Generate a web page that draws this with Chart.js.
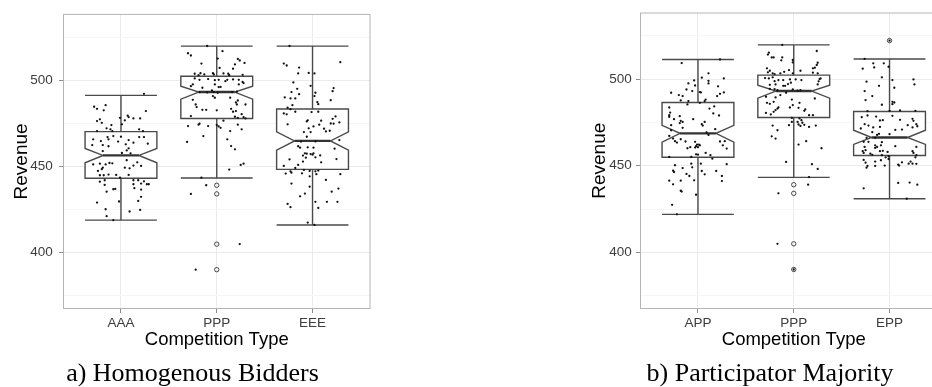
<!DOCTYPE html>
<html>
<head>
<meta charset="utf-8">
<title>Revenue by competition type</title>
<script src="https://cdn.jsdelivr.net/npm/chart.js@4.4.1/dist/chart.umd.min.js"></script>
<style>
  html, body { margin: 0; padding: 0; background: #ffffff; overflow: hidden; width: 932px; height: 387px; }
  .panel { position: absolute; top: 0; height: 387px; }
  #wrapA { left: 0; width: 385px; }
  #wrapB { left: 580px; width: 380px; }
</style>
</head>
<body>
<div class="panel" id="wrapA"><canvas id="chartA"></canvas></div>
<div class="panel" id="wrapB"><canvas id="chartB"></canvas></div>
<script>
// ---------- categories and axis labels ----------
const categoriesA = ['AAA', 'PPP', 'EEE'];
const categoriesB = ['APP', 'PPP', 'EPP'];
const yTickLabels = [400, 450, 500];
const yMinorGrid = [375, 425, 475, 525];
const captionA = 'a) Homogenous Bidders';
const captionB = 'b) Participator Majority';
const xTitle = 'Competition Type';
const yTitle = 'Revenue';

// ---------- box statistics (per category) ----------
const lowerWhiskerA = [418.9, 443.3, 416.1];
const q1A           = [443.2, 477.8, 448.3];
const notchLowA     = [452.1, 489.0, 459.5];
const medianA       = [456.4, 493.1, 464.8];
const notchHighA    = [460.4, 496.5, 470.0];
const q3A           = [470.2, 502.3, 483.3];
const upperWhiskerA = [491.2, 519.7, 519.7];
const outliersA     = [[], [439.1, 434.1, 405.0, 390.2], []];

const lowerWhiskerB = [422.0, 443.3, 431.0];
const q1B           = [454.9, 477.8, 455.9];
const notchLowB     = [463.6, 489.0, 462.3];
const medianB       = [468.7, 493.1, 466.3];
const notchHighB    = [473.3, 496.5, 470.5];
const q3B           = [486.5, 502.3, 481.3];
const upperWhiskerB = [511.3, 519.7, 511.6];
const outliersB     = [[], [439.1, 434.1, 405.0, 390.2], [522.2]];

// ---------- individual observations (revenue) and their horizontal jitter ----------
const aaaRevenue = [492.1,484.6,483.4,485.5,482.5,482.1,478.2,479.4,478.6,476.7,
  477.8,477.8,476.3,477.3,475.3,474.0,474.4,472.1,471.5,470.5,
  470.5,471.5,470.5,465.7,464.7,467.0,465.7,467.6,467.2,465.3,
  463.8,467.0,467.0,463.2,462.4,462.4,461.7,464.4,462.8,460.5,
  458.9,457.8,459.3,457.6,451.2,451.6,452.0,451.8,451.2,449.3,
  448.4,447.4,449.3,448.9,450.5,452.4,450.3,453.6,444.9,444.9,
  445.3,445.1,443.5,445.1,441.2,442.0,442.0,442.0,441.4,439.7,
  439.7,439.3,439.7,440.1,435.4,436.8,437.0,436.6,437.4,432.4,
  430.0,429.1,429.7,425.2,423.9,424.8,421.2,418.9];
const aaaJitter = [0.24,-0.28,-0.25,-0.16,-0.18,0.26,-0.01,0.07,0.08,0.04,
  0.13,0.20,-0.25,-0.22,-0.20,-0.10,0.01,-0.15,-0.11,-0.09,
  -0.25,0.19,0.23,-0.29,-0.21,-0.14,-0.13,-0.08,0,0.08,
  0.13,0.19,0.24,0.28,-0.30,-0.19,-0.13,-0.03,0.05,0.08,
  -0.19,0.01,0.06,0.10,-0.29,-0.22,-0.12,-0.09,-0.16,-0.19,
  -0.20,-0.24,0.04,0.09,0.13,0.17,0.21,0.06,-0.22,-0.18,
  -0.13,-0.05,-0.01,0.08,-0.22,-0.17,0.13,0.18,0.24,0.27,
  0.29,-0.17,0.13,0.21,-0.15,-0.08,-0.06,0.21,0.14,0.21,
  0.18,-0.25,-0.02,-0.16,0.09,0.20,-0.15,-0.08];

const pppRevenueA = [519.8,516.8,515.6,514.3,512.5,509.6,512.3,511.4,510.0,509.1,
  506.6,507.1,503.7,502.9,504.0,503.3,504.0,503.3,503.9,503.7,
  502.9,503.1,501.0,500.2,500.6,500.0,500.2,499.4,500.2,500.4,
  500.2,498.3,497.5,497.5,496.5,495.6,497.5,496.0,496.1,499.0,
  494.0,493.1,493.1,492.9,492.7,493.1,493.3,490.8,489.8,489.8,
  488.6,485.9,484.4,488.2,487.1,485.9,485.9,482.8,482.8,482.5,
  483.4,481.7,482.1,480.3,479.2,478.8,478.2,478.6,477.8,476.5,
  473.4,474.8,474.2,473.4,474.0,473.2,472.4,474.2,471.5,470.5,
  467.6,464.2,465.7,461.8,459.9,451.6,450.9,448.2,443.5,439.1,
  434.1,405.0,390.2];
const pppJitterA = [-0.10,0.06,-0.30,-0.27,0.01,-0.16,0.22,0.24,0.29,0.19,
  0.17,0.03,-0.23,-0.19,-0.17,-0.13,-0.04,-0.03,0.07,0.12,
  0.13,0.27,-0.23,-0.18,-0.09,-0.02,0.02,0.09,0.11,0.17,
  0.23,0.28,0.23,-0.25,-0.27,-0.15,-0.02,0.02,0.04,0.27,
  -0.05,-0.03,-0.18,-0.10,0.01,0.16,0.21,-0.04,-0.02,0.14,
  -0.25,-0.22,-0.21,0.22,0.20,0.21,0.30,-0.15,-0.11,0,
  0.15,0.17,0.20,0.26,-0.27,0.19,0.22,0.28,0.30,0.07,
  -0.30,-0.18,-0.19,-0.09,0,0.02,0.04,0.22,0.26,0.14,
  -0.14,-0.31,0.11,0.15,0.19,0.28,0.25,0.13,-0.16,-0.11,
  -0.27,0.24,-0.22];

const eeeRevenue = [519.8,510.4,509.6,508.5,507.3,504.2,503.9,503.9,
  498.7,496.7,495.0,495.4,493.6,493.1,491.9,492.7,490.8,490.0,489.4,489.4,488.4,487.3,486.1,485.5,
  484.0,483.2,481.7,480.7,480.2,481.5,481.7,
  479.0,477.6,476.7,476.1,476.5,474.2,474.9,474.8,475.5,474.4,473.2,472.1,471.9,470.3,470.7,469.9,469.9,467.2,
  464.4,464.5,465.3,461.7,460.9,461.1,460.9,460.3,457.6,456.3,455.1,457.4,457.2,456.8,457.6,456.4,455.3,454.1,452.8,452.4,454.3,
  450.3,450.9,449.1,447.2,446.4,445.9,446.0,448.0,447.4,447.2,447.6,445.5,444.3,445.5,
  442.2,440.1,438.3,437.2,435.4,434.3,432.7,429.5,429.5,429.5,428.3,426.4,426.0,
  417.5,416.1];
const eeeJitter = [-0.24,0.29,-0.30,-0.27,-0.14,-0.04,0.02,-0.15,
  -0.20,-0.02,-0.16,0.22,0.21,-0.22,-0.14,0.03,0.02,-0.29,-0.23,-0.18,0.19,0.05,0.06,-0.21,
  -0.26,-0.23,-0.18,-0.30,-0.27,-0.01,0.06,
  0.24,0.21,-0.05,-0.06,0.09,0.07,0.19,0.22,0.28,-0.26,0.01,-0.04,0.12,0.14,0.18,-0.09,-0.02,-0.06,
  -0.12,0.03,0.28,-0.15,-0.13,-0.05,0.01,0.23,-0.08,-0.10,-0.07,-0.06,-0.02,0,0.01,0.08,0.03,-0.24,-0.10,0.09,0.25,
  -0.30,-0.15,-0.18,-0.23,-0.22,-0.28,-0.11,-0.09,-0.03,0.03,0.06,0.04,-0.03,0.29,
  0.14,-0.22,-0.03,0.27,0.20,-0.08,-0.13,0.03,0.15,0.26,-0.26,-0.23,0.06,
  -0.05,0.02];

const appRevenue = [509.2,511.3,
  503.3,500.4,500.8,499.2,497.5,499.0,497.5,496.3,495.8,494.0,493.1,492.5,492.3,492.3,491.5,490.2,492.1,490.8,490.2,487.7,487.3,488.2,487.3,485.4,486.3,
  483.6,480.7,479.2,478.2,476.9,478.6,475.9,475.3,476.9,474.0,473.2,475.3,483.0,484.2,480.2,479.0,473.4,471.9,474.6,471.1,470.5,
  467.2,465.7,464.2,463.4,465.3,464.0,463.8,462.2,462.2,461.8,461.3,460.7,460.1,460.7,460.5,464.0,464.2,461.8,459.9,469.2,467.8,457.4,456.1,454.1,455.1,455.1,456.6,456.4,
  450.3,451.2,449.1,451.2,450.9,448.7,446.4,447.2,445.3,444.1,441.6,447.0,445.1,447.0,444.1,441.2,441.4,439.3,441.4,435.6,435.1,433.3,427.5,422.0];
const appJitter = [-0.17,0.23,
  0.11,0.27,0.04,-0.04,-0.10,0.11,0.11,-0.03,0.21,-0.12,-0.06,0.02,0.03,0.27,0.23,0.20,-0.28,-0.20,-0.16,-0.18,-0.10,0.08,0.07,-0.11,0.02,
  -0.30,-0.29,-0.30,-0.30,-0.25,-0.19,-0.18,-0.16,-0.05,0.04,0.05,0.07,0.12,0.17,0.16,0.22,-0.28,-0.16,-0.19,0.18,-0.28,
  -0.30,-0.26,-0.24,-0.22,-0.18,-0.13,-0.03,-0.01,0.01,0.02,-0.02,-0.08,-0.11,0,-0.03,0.23,0.28,0.26,0.30,0.09,0.11,0.08,0.13,0.15,-0.30,-0.07,-0.02,0,
  -0.24,-0.07,-0.06,0.03,0.30,-0.16,-0.25,-0.26,-0.12,-0.09,-0.04,0.04,0.07,0.19,0.25,0.25,-0.30,-0.26,-0.18,-0.18,-0.17,-0.02,-0.27,-0.22];

const pppRevenueB = [519.7,516.2,515.2,514.1,512.5,512.5,512.5,510.8,511.0,509.6,509.4,508.1,506.6,506.2,506.2,504.8,503.9,503.3,502.9,503.3,504.2,505.2,503.3,504.8,503.7,503.3,
  500.6,500.4,501.0,498.8,499.4,499.4,499.8,499.8,499.4,500.0,500.4,498.7,496.9,497.9,497.1,496.1,496.1,496.9,496.7,494.4,494.2,493.6,494.0,493.6,493.3,492.1,490.8,489.4,489.8,488.8,488.2,
  486.3,486.9,485.7,485.0,483.6,483.6,483.0,482.1,486.3,482.5,481.7,483.4,480.5,479.6,481.1,479.2,479.2,
  477.6,475.3,477.3,475.3,476.3,474.8,473.6,473.0,473.8,473.2,472.4,473.4,473.2,470.5,467.0,465.7,464.2,462.2,460.1,
  452.2,450.9,448.2,443.5,439.1,434.1,405.0,390.2];
const pppJitterB = [-0.12,0.24,-0.26,-0.27,-0.23,-0.21,-0.12,-0.13,-0.01,-0.01,0.25,0.24,0.22,0.20,-0.28,-0.25,-0.27,-0.22,-0.20,-0.14,-0.10,-0.05,-0.01,0.07,0.20,0.25,
  -0.30,-0.26,-0.22,-0.20,-0.16,-0.11,-0.04,0.02,0.08,0.27,0.28,0.26,0.25,-0.03,-0.06,-0.09,-0.11,-0.19,-0.25,-0.25,-0.20,-0.17,-0.01,0.07,0.04,-0.08,-0.14,-0.19,-0.29,0.22,-0.02,
  -0.28,-0.21,-0.25,-0.01,-0.04,-0.16,-0.17,-0.19,0.06,0.12,0.11,0.05,-0.29,-0.24,-0.21,0.16,0.20,
  -0.02,-0.02,0.06,0.04,0.08,0.09,0.11,0.07,0.05,0.23,0.16,-0.05,-0.22,-0.17,-0.23,-0.19,0.13,0.05,0.29,
  -0.08,0.19,0.25,0.16,0.15,-0.16,-0.17,0];

const eppRevenue = [522.2,
  511.6,509.1,506.7,509.1,507.1,506.0,
  498.5,501.0,499.4,499.8,496.9,496.1,495.0,493.1,490.2,487.9,485.2,486.9,486.5,485.5,
  481.5,481.7,481.9,481.7,478.0,479.0,478.4,476.1,476.3,478.8,476.5,477.1,475.9,474.0,472.8,474.0,473.2,471.5,472.1,472.4,470.7,473.4,472.1,469.4,468.2,470.9,
  466.1,466.1,467.8,468.4,463.8,463.8,461.8,460.9,463.6,461.8,461.3,460.9,458.4,457.4,459.0,460.3,458.4,458.6,458.0,458.4,457.4,456.1,460.9,
  457.0,456.3,456.1,455.5,453.4,451.8,449.9,448.9,452.4,449.9,453.2,450.1,453.9,454.9,450.1,450.7,452.0,451.2,452.4,451.2,454.9,451.1,
  440.1,440.3,439.1,437.0,431.0];
const eppJitter = [0,
  -0.26,-0.17,-0.16,-0.06,-0.01,-0.28,
  -0.24,-0.08,0.03,0.25,0.26,-0.11,0.05,-0.26,-0.18,-0.25,-0.08,0.03,0.05,0.03,
  -0.23,0,0.11,0.27,-0.29,-0.23,-0.14,-0.10,-0.07,0.03,0.11,0.24,0.25,0.28,0.29,-0.26,-0.22,-0.30,-0.17,-0.10,0.06,0.19,0.24,-0.18,0,0.13,
  -0.24,-0.15,-0.13,-0.11,-0.27,-0.22,-0.15,-0.13,-0.08,-0.09,0.06,-0.26,-0.28,-0.27,-0.25,-0.15,-0.10,-0.07,-0.02,0.24,0.25,0.28,0.28,
  -0.20,-0.18,-0.08,-0.01,-0.27,-0.25,-0.23,-0.24,-0.15,-0.15,-0.09,-0.05,-0.01,-0.04,0.10,0.09,0.13,0.20,0.22,0.24,0.27,0.28,
  0.09,0.21,0.29,-0.27,0.18];

// ---------- appearance ----------
const Y_MIN = 367.7, Y_MAX = 538.1;
const X_MIN = 0.4, X_MAX = 3.6;           // discrete axis with 0.6 expansion
const BOX_HALF = 0.375;                   // half box width, category units
const NOTCH_FRACTION = 0.5;               // notch width relative to box
const SANS = '"Liberation Sans", Arial, Helvetica, sans-serif';
const SERIF = '"Liberation Serif", "Times New Roman", Times, serif';
const MAJOR_GRID = '#ebebeb', MINOR_GRID = '#f6f6f6';
const FRAME = '#b5b5b5', TICK_MARK = '#8c8c8c', TICK_TEXT = '#3d3d3d';
const BOX_LINE = '#4a4a4a';

// Notched boxes, whiskers and caps drawn through the chart's scales
const notchedBoxes = {
  id: 'notchedBoxes',
  beforeDatasetsDraw(chart, args, opts) {
    const {ctx, scales: {x, y}} = chart;
    const s = opts.stats;
    ctx.save();
    ctx.lineJoin = 'miter';
    for (let i = 0; i < s.median.length; i++) {
      const c = i + 1;
      const L = x.getPixelForValue(c - BOX_HALF);
      const R = x.getPixelForValue(c + BOX_HALF);
      const Li = x.getPixelForValue(c - BOX_HALF * NOTCH_FRACTION);
      const Ri = x.getPixelForValue(c + BOX_HALF * NOTCH_FRACTION);
      const cx = x.getPixelForValue(c);
      const yLo = y.getPixelForValue(s.lower[i]);
      const yQ1 = y.getPixelForValue(s.q1[i]);
      const yNL = y.getPixelForValue(s.notchLow[i]);
      const yMed = y.getPixelForValue(s.median[i]);
      const yNH = y.getPixelForValue(s.notchHigh[i]);
      const yQ3 = y.getPixelForValue(s.q3[i]);
      const yHi = y.getPixelForValue(s.upper[i]);

      ctx.strokeStyle = BOX_LINE;
      ctx.lineWidth = 1.4;
      // whiskers and caps
      ctx.beginPath();
      ctx.moveTo(cx, yQ3); ctx.lineTo(cx, yHi);
      ctx.moveTo(cx, yQ1); ctx.lineTo(cx, yLo);
      ctx.moveTo(L, yHi); ctx.lineTo(R, yHi);
      ctx.moveTo(L, yLo); ctx.lineTo(R, yLo);
      ctx.stroke();
      // notched box
      ctx.beginPath();
      ctx.moveTo(L, yQ3); ctx.lineTo(R, yQ3);
      ctx.lineTo(R, yNH); ctx.lineTo(Ri, yMed); ctx.lineTo(R, yNL);
      ctx.lineTo(R, yQ1); ctx.lineTo(L, yQ1);
      ctx.lineTo(L, yNL); ctx.lineTo(Li, yMed); ctx.lineTo(L, yNH);
      ctx.closePath();
      ctx.fillStyle = '#ffffff';
      ctx.fill();
      ctx.stroke();
      // median
      ctx.strokeStyle = '#333333';
      ctx.lineWidth = 2.4;
      ctx.beginPath();
      ctx.moveTo(Li, yMed); ctx.lineTo(Ri, yMed);
      ctx.stroke();
    }
    ctx.restore();
  }
};

// Panel border around the plotting area
const panelFrame = {
  id: 'panelFrame',
  afterDatasetsDraw(chart) {
    const {ctx, chartArea: a} = chart;
    ctx.save();
    ctx.strokeStyle = FRAME;
    ctx.lineWidth = 1;
    ctx.strokeRect(a.left, a.top, a.right - a.left, a.bottom - a.top);
    ctx.restore();
  }
};

function buildPoints(revenues, jitters) {
  const pts = [];
  revenues.forEach((vals, i) => {
    vals.forEach((v, k) => pts.push({x: i + 1 + (jitters[i][k] || 0), y: v}));
  });
  return pts;
}

function buildOutliers(outliers) {
  const pts = [];
  outliers.forEach((vals, i) => vals.forEach(v => pts.push({x: i + 1, y: v})));
  return pts;
}

function makePanel(canvasId, p) {
  const isMajor = v => yTickLabels.includes(v);
  return new Chart(document.getElementById(canvasId), {
    type: 'scatter',
    data: {
      datasets: [
        {
          label: 'observations',
          data: buildPoints(p.revenues, p.jitters),
          pointRadius: 1.15,
          pointBorderWidth: 0,
          pointBackgroundColor: '#111111',
          pointHoverRadius: 1.15
        },
        {
          label: 'outliers',
          data: buildOutliers(p.outliers),
          pointRadius: 2.2,
          pointBorderWidth: 0.9,
          pointBorderColor: '#333333',
          pointBackgroundColor: 'rgba(0,0,0,0)'
        }
      ]
    },
    options: {
      responsive: true,
      maintainAspectRatio: false,
      animation: false,
      events: [],
      layout: {padding: {left: p.padLeft, right: p.padRight, top: 13, bottom: 0}},
      scales: {
        x: {
          type: 'linear',
          min: X_MIN,
          max: X_MAX,
          afterBuildTicks: s => { s.ticks = p.categories.map((_, i) => ({value: i + 1})); },
          afterFit: s => { s.height = 52.5; },
          ticks: {
            callback: v => p.categories[Math.round(v) - 1],
            font: {family: SANS, size: 13.5},
            color: TICK_TEXT,
            padding: 2,
            maxRotation: 0,
            autoSkip: false
          },
          grid: {color: MAJOR_GRID, tickColor: TICK_MARK, tickLength: 4.5, lineWidth: 1},
          border: {display: false},
          title: {
            display: true,
            text: xTitle,
            font: {family: SANS, size: 18.5},
            color: '#000000',
            padding: {top: 0, bottom: 10.3}
          }
        },
        y: {
          type: 'linear',
          min: Y_MIN,
          max: Y_MAX,
          afterBuildTicks: s => {
            s.ticks = [...yMinorGrid, ...yTickLabels].sort((a, b) => a - b).map(v => ({value: v}));
          },
          afterFit: s => { s.width = p.yAxisWidth; },
          ticks: {
            callback: v => (isMajor(v) ? String(v) : ''),
            font: {family: SANS, size: 13.5},
            color: TICK_TEXT,
            padding: p.yTickPadding,
            autoSkip: false
          },
          grid: {
            color: c => (c.tick && isMajor(c.tick.value) ? MAJOR_GRID : MINOR_GRID),
            tickColor: c => (c.tick && isMajor(c.tick.value) ? TICK_MARK : 'rgba(0,0,0,0)'),
            tickLength: 4.5,
            lineWidth: 1
          },
          border: {display: false},
          title: {
            display: true,
            text: yTitle,
            font: {family: SANS, size: 19},
            color: '#000000',
            padding: {top: p.yTitleShift, bottom: 0}
          }
        }
      },
      plugins: {
        legend: {display: false},
        tooltip: {enabled: false},
        title: {
          display: true,
          text: p.caption,
          position: 'bottom',
          color: '#000000',
          font: {family: SERIF, size: 26, weight: 'normal', lineHeight: 1},
          padding: {top: 0, bottom: 0}
        },
        notchedBoxes: {stats: p.stats}
      }
    },
    plugins: [notchedBoxes, panelFrame]
  });
}

makePanel('chartA', {
  categories: categoriesA,
  caption: captionA,
  revenues: [aaaRevenue, pppRevenueA, eeeRevenue],
  jitters: [aaaJitter, pppJitterA, eeeJitter],
  outliers: outliersA,
  stats: {lower: lowerWhiskerA, q1: q1A, notchLow: notchLowA, median: medianA,
          notchHigh: notchHighA, q3: q3A, upper: upperWhiskerA},
  padLeft: 15, padRight: 15, yAxisWidth: 48.5, yTickPadding: 6.3, yTitleShift: -4.7
});

makePanel('chartB', {
  categories: categoriesB,
  caption: captionB,
  revenues: [appRevenue, pppRevenueB, eppRevenue],
  jitters: [appJitter, pppJitterB, eppJitter],
  outliers: outliersB,
  stats: {lower: lowerWhiskerB, q1: q1B, notchLow: notchLowB, median: medianB,
          notchHigh: notchHighB, q3: q3B, upper: upperWhiskerB},
  padLeft: 13, padRight: 13, yAxisWidth: 47.5, yTickPadding: 4.3, yTitleShift: -5.0
});
</script>
</body>
</html>
